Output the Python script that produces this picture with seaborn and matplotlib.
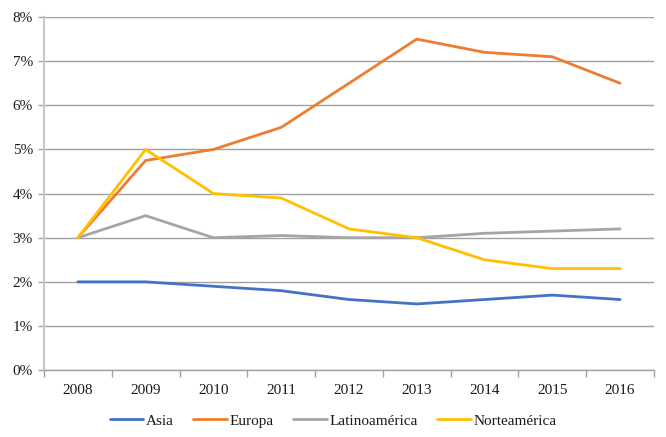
import pandas as pd
import numpy as np
import matplotlib
matplotlib.use("Agg")
import matplotlib.pyplot as plt
import seaborn as sns
from matplotlib.ticker import FuncFormatter

# Datos
years = [2008, 2009, 2010, 2011, 2012, 2013, 2014, 2015, 2016]
asia = [2.0, 2.0, 1.9, 1.8, 1.6, 1.5, 1.6, 1.7, 1.6]
europa = [3.0, 4.75, 5.0, 5.5, 6.5, 7.5, 7.2, 7.1, 6.5]
latinoamerica = [3.0, 3.5, 3.0, 3.05, 3.0, 3.0, 3.1, 3.15, 3.2]
norteamerica = [3.0, 5.0, 4.0, 3.9, 3.2, 3.0, 2.5, 2.3, 2.3]

series = ["Asia", "Europa", "Latinoamérica", "Norteamérica"]
colors = ["#4472C4", "#ED7D31", "#A5A5A5", "#FFC000"]

df = pd.DataFrame({
    "Year": years * 4,
    "Value": asia + europa + latinoamerica + norteamerica,
    "Region": [s for s in series for _ in years],
})
df["pos"] = df["Year"].map({y: i for i, y in enumerate(years)})

sns.set_style("white")
plt.rcParams["font.family"] = ["Liberation Serif", "DejaVu Serif"]
plt.rcParams["text.color"] = "#1a1a1a"
plt.rcParams["xtick.color"] = "#1a1a1a"
plt.rcParams["ytick.color"] = "#1a1a1a"

fig = plt.figure(figsize=(6.66, 4.37), dpi=100)
ax = fig.add_axes([0.066, 0.153, 0.916, 0.808])

sns.lineplot(data=df, x="pos", y="Value", hue="Region", hue_order=series,
             palette=colors, linewidth=2.0, ax=ax, legend=False)

ax.set_xlim(-0.5, len(years) - 0.5)
ax.set_ylim(0, 8)
ax.set_yticks(range(0, 9))
ax.yaxis.set_major_formatter(FuncFormatter(lambda v, p: f"{int(v)}%"))
ax.set_xticks(range(len(years)))
ax.set_xticklabels([str(y) for y in years])
ax.set_xticks(np.arange(-0.5, len(years)), minor=True)
ax.tick_params(axis="x", which="major", length=0, pad=10, labelsize=11)
ax.tick_params(axis="x", which="minor", length=5, color="#A0A0A0", width=1, direction="out", bottom=True)
ax.tick_params(axis="y", length=4, color="#A0A0A0", width=1, direction="out", left=True, labelsize=11, pad=4)
ax.grid(axis="y", color="#A0A0A0", linewidth=1)
ax.set_axisbelow(True)
ax.set_xlabel("")
ax.set_ylabel("")

for s in ["top", "right"]:
    ax.spines[s].set_visible(False)
ax.spines["left"].set_color("#C8C8C8")
ax.spines["left"].set_linewidth(1.5)
ax.spines["bottom"].set_color("#A0A0A0")
ax.spines["bottom"].set_linewidth(1)

handles = [plt.Line2D([0], [0], color=c, linewidth=2.0) for c in colors]
fig.legend(handles, series, loc="center", bbox_to_anchor=(0.5, 0.037), ncol=4,
           frameon=False, fontsize=11, handlelength=2.2, handletextpad=0.15,
           columnspacing=1.3)

fig.savefig("out.png", dpi=100)
